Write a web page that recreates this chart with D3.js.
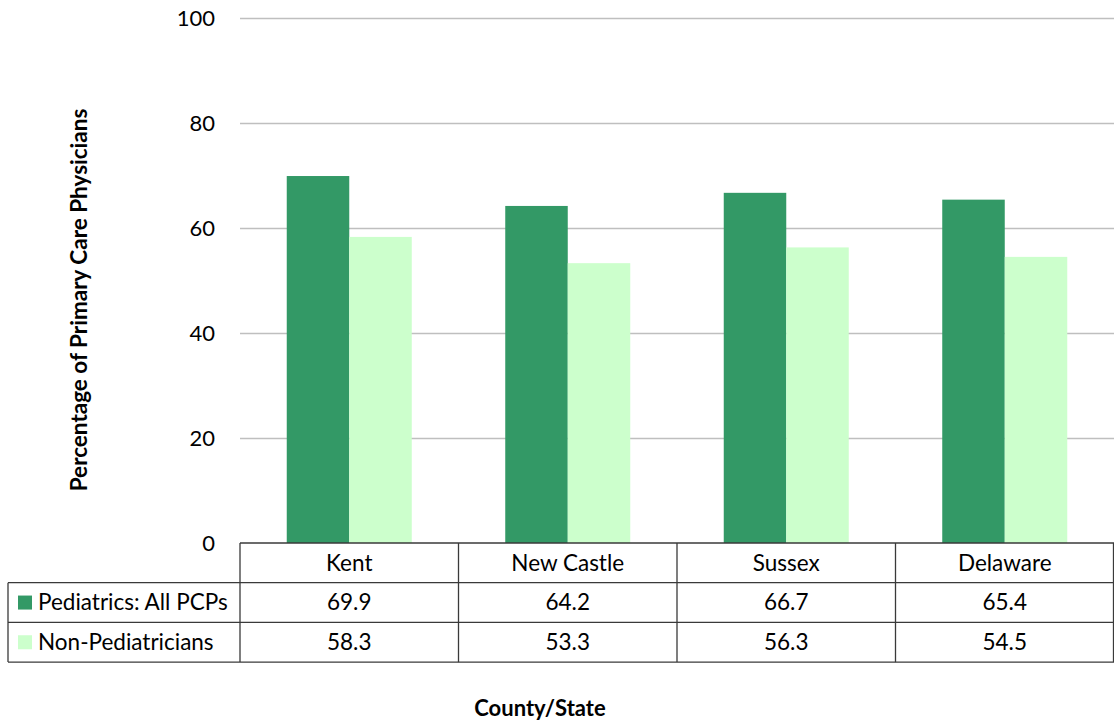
<!DOCTYPE html>
<html>
<head>
<meta charset="utf-8">
<script src="https://cdn.jsdelivr.net/npm/d3@7"></script>
<style>
  html, body { margin: 0; padding: 0; background: #fff; }
  svg { display: block; font-family: Lato, "Open Sans", sans-serif; }
</style>
</head>
<body>
<svg id="chart" width="1114" height="724"></svg>
<script>
// Share of primary care physicians, by county and statewide
const categories = ["Kent", "New Castle", "Sussex", "Delaware"];
const seriesNames = ["Pediatrics: All PCPs", "Non-Pediatricians"];
const pediatricsAll = [69.9, 64.2, 66.7, 65.4];
const nonPediatricians = [58.3, 53.3, 56.3, 54.5];
const yTicks = [0, 20, 40, 60, 80, 100];
const seriesColors = ["#339966", "#CCFFCC"];

const series = [pediatricsAll, nonPediatricians];

const svg = d3.select("#chart");
const plotLeft = 240, plotRight = 1114, plotTop = 18, plotBottom = 543;
const rowH = 39.7;
const tableLeft = 8;
const labelSize = 22.5;

const x = d3.scaleBand().domain(categories).range([plotLeft, plotRight]).paddingInner(0).paddingOuter(0);
const inner = d3.scaleBand().domain(d3.range(series.length)).range([0, x.bandwidth()]).paddingInner(0).paddingOuter(0.748);
const y = d3.scaleLinear().domain([0, 100]).range([plotBottom, plotTop]);

// horizontal gridlines and tick labels
const yAxis = d3.axisLeft(y).tickValues(yTicks).tickSize(-(plotRight - plotLeft)).tickPadding(25);
const gy = svg.append("g").attr("transform", `translate(${plotLeft},0)`).call(yAxis);
gy.select(".domain").remove();
gy.selectAll(".tick line").attr("stroke", "#bfbfbf").attr("stroke-width", 1.5)
  .filter(d => d === 0).remove();
gy.selectAll(".tick text").attr("font-size", 22).attr("fill", "#000")
  .attr("font-family", "Lato, 'Open Sans', sans-serif");

// bars
const groups = svg.append("g").selectAll("g").data(categories).join("g")
  .attr("transform", d => `translate(${x(d)},0)`);
series.forEach((vals, si) => {
  groups.append("rect")
    .attr("x", inner(si))
    .attr("width", inner.bandwidth())
    .attr("y", (d, i) => y(vals[i]))
    .attr("height", (d, i) => y(0) - y(vals[i]))
    .attr("fill", seriesColors[si]);
});

// data table beneath the axis
const lineColor = "#3a3a3a";
const tbl = svg.append("g").attr("stroke", lineColor).attr("stroke-width", 1.3).attr("fill", "none");
const rowYs = [plotBottom, plotBottom + rowH, plotBottom + 2 * rowH, plotBottom + 3 * rowH];
// axis line / top of table
tbl.append("line").attr("x1", plotLeft).attr("x2", plotRight).attr("y1", rowYs[0]).attr("y2", rowYs[0]);
rowYs.slice(1).forEach(ry => {
  tbl.append("line").attr("x1", tableLeft).attr("x2", plotRight).attr("y1", ry).attr("y2", ry);
});
// vertical dividers
tbl.append("line").attr("x1", tableLeft).attr("x2", tableLeft).attr("y1", rowYs[1]).attr("y2", rowYs[3]);
categories.forEach(c => {
  tbl.append("line").attr("x1", x(c)).attr("x2", x(c)).attr("y1", rowYs[0]).attr("y2", rowYs[3]);
});
tbl.append("line").attr("x1", plotRight - 0.5).attr("x2", plotRight - 0.5).attr("y1", rowYs[0]).attr("y2", rowYs[3]);

// category header row
svg.append("g").selectAll("text").data(categories).join("text")
  .attr("x", d => x(d) + x.bandwidth() / 2)
  .attr("y", rowYs[0] + rowH / 2)
  .attr("dy", "0.35em")
  .attr("text-anchor", "middle")
  .attr("font-size", labelSize)
  .text(d => d);

// value rows with legend keys
series.forEach((vals, si) => {
  const cy = rowYs[si + 1] + rowH / 2;
  svg.append("rect").attr("x", 18).attr("y", cy - 7).attr("width", 14).attr("height", 14)
    .attr("fill", seriesColors[si]);
  svg.append("text").attr("x", 38).attr("y", cy).attr("dy", "0.35em")
    .attr("font-size", labelSize).text(seriesNames[si]);
  svg.append("g").selectAll("text").data(categories).join("text")
    .attr("x", d => x(d) + x.bandwidth() / 2)
    .attr("y", cy)
    .attr("dy", "0.35em")
    .attr("text-anchor", "middle")
    .attr("font-size", labelSize)
    .text((d, i) => vals[i].toFixed(1));
});

// axis titles
svg.append("text")
  .attr("transform", `translate(87,300) rotate(-90)`)
  .attr("text-anchor", "middle")
  .attr("font-size", 22.5).attr("font-weight", "bold")
  .text("Percentage of Primary Care Physicians");

svg.append("text")
  .attr("x", 540).attr("y", 716)
  .attr("text-anchor", "middle")
  .attr("font-size", 22).attr("font-weight", "bold")
  .text("County/State");
</script>
</body>
</html>
